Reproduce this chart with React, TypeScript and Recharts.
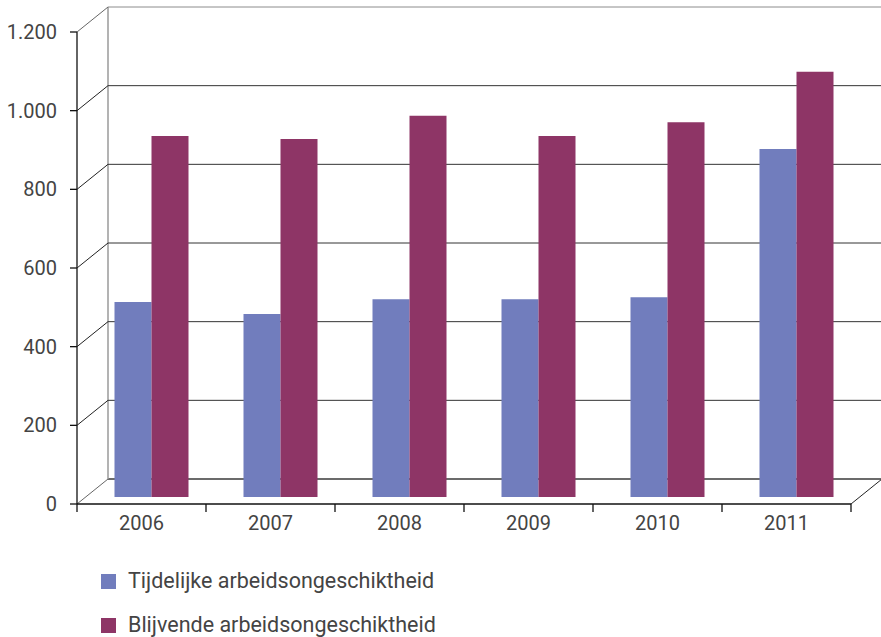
import React from 'react';
import { BarChart, Bar, XAxis, YAxis, CartesianGrid, Legend } from 'recharts';

const years = ['2006', '2007', '2008', '2009', '2010', '2011'];
const tijdelijk = [496, 465, 503, 503, 508, 885];
const blijvend = [918, 910, 969, 918, 953, 1081];
const yTicks = [0, 200, 400, 600, 800, 1000, 1200];
const seriesNames = ['Tijdelijke arbeidsongeschiktheid', 'Blijvende arbeidsongeschiktheid'];
const seriesColors = ['#717dbd', '#8e3566'];

const data = years.map((year, i) => ({ year, tijdelijk: tijdelijk[i], blijvend: blijvend[i] }));

// pseudo-3D frame: front plane sits below/left of the bars, back wall above/right
const W = 881;
const H = 637;
const PLOT_TOP = 25;
const PLOT_BOTTOM = 497;
const PLOT_H = PLOT_BOTTOM - PLOT_TOP;
const BAND = 129;
const FRONT_DX = -9.5;
const FRONT_DY = 7;
const BACK_DX = 21.5;
const BACK_DY = -18;
const TEXT = '#444';
const FONT = 'Roboto, "DejaVu Sans", sans-serif';

function formatTick(v: number): string {
  return String(v).replace(/\B(?=(\d{3})+(?!\d))/g, '.');
}

const GridLine = (props: any) => {
  const { x1, x2, y1 } = props;
  const yf = y1 + FRONT_DY;
  const yb = y1 + BACK_DY;
  const xf1 = x1 + FRONT_DX;
  const xb1 = x1 + BACK_DX;
  const isBottom = Math.abs(y1 - PLOT_BOTTOM) < 1;
  const isTop = Math.abs(y1 - PLOT_TOP) < 1;
  const edge = isBottom || isTop;
  return (
    <g>
      <line
        x1={xb1}
        y1={yb}
        x2={W}
        y2={yb}
        stroke={isBottom ? '#6b6b6b' : isTop ? '#8c8c8c' : '#333'}
        strokeWidth={isBottom ? 2 : 1}
      />
      <line x1={xf1} y1={yf} x2={xb1} y2={yb} stroke={edge ? '#666' : '#222'} strokeWidth={1} />
      {isBottom && (
        <g>
          <line x1={xb1} y1={yb} x2={xb1} y2={yb - PLOT_H} stroke="#9a9a9a" strokeWidth={1.5} />
          <line x1={xf1} y1={yf} x2={xf1} y2={yf - PLOT_H} stroke="#111" strokeWidth={1.3} />
          <line x1={xf1} y1={yf} x2={x2 + FRONT_DX} y2={yf} stroke="#111" strokeWidth={1.3} />
          <line x1={x2 + FRONT_DX} y1={yf} x2={x2 + BACK_DX} y2={yb} stroke="#222" strokeWidth={1} />
        </g>
      )}
    </g>
  );
};

const YTick = (props: any) => {
  const { y, payload } = props;
  const yf = y + FRONT_DY;
  const xf = 77;
  return (
    <g>
      <line x1={xf - 7} y1={yf} x2={xf} y2={yf} stroke="#111" strokeWidth={1.3} />
      <text x={57} y={yf + 7} textAnchor="end" fill={TEXT} fontSize={20} fontFamily={FONT}>
        {formatTick(payload.value)}
      </text>
    </g>
  );
};

const XTick = (props: any) => {
  const { x, payload, index } = props;
  const cx = x + FRONT_DX;
  const yf = PLOT_BOTTOM + FRONT_DY;
  const left = cx - BAND / 2;
  const right = cx + BAND / 2;
  return (
    <g>
      <line x1={left} y1={yf} x2={left} y2={yf + 8} stroke="#111" strokeWidth={1.3} />
      {index === years.length - 1 && (
        <line x1={right} y1={yf} x2={right} y2={yf + 8} stroke="#111" strokeWidth={1.3} />
      )}
      <text x={cx} y={yf + 26} textAnchor="middle" fill={TEXT} fontSize={20} fontFamily={FONT}>
        {payload.value}
      </text>
    </g>
  );
};

const LegendContent = () => (
  <div style={{ fontFamily: FONT, fontSize: 21.5, color: TEXT }}>
    {seriesNames.map((name, i) => (
      <div
        key={name}
        style={{ display: 'flex', alignItems: 'center', height: 22, marginBottom: 22, lineHeight: '22px' }}
      >
        <span style={{ width: 15, height: 15, background: seriesColors[i], marginRight: 12, display: 'inline-block' }} />
        <span style={{ whiteSpace: 'nowrap' }}>{name}</span>
      </div>
    ))}
  </div>
);

export default function App() {
  return (
    <div style={{ position: 'absolute', left: 0, top: 0, width: W, height: H, background: '#fff' }}>
      <BarChart
        width={W}
        height={H}
        data={data}
        margin={{ top: PLOT_TOP, right: 20.5, bottom: 110, left: 0 }}
        barGap={0}
        barSize={37}
      >
        <CartesianGrid vertical={false} horizontal={(p: any) => <GridLine key={p.key} {...p} />} />
        <XAxis dataKey="year" height={30} axisLine={false} tickLine={false} tick={XTick} interval={0} />
        <YAxis
          width={86.5}
          domain={[0, 1200]}
          ticks={yTicks}
          axisLine={false}
          tickLine={false}
          tick={YTick}
          interval={0}
        />
        <Legend
          layout="vertical"
          align="center"
          verticalAlign="middle"
          content={LegendContent}
          wrapperStyle={{ left: 101, top: 570, width: 420, height: 'auto' }}
        />
        <Bar dataKey="tijdelijk" name={seriesNames[0]} fill={seriesColors[0]} isAnimationActive={false} />
        <Bar dataKey="blijvend" name={seriesNames[1]} fill={seriesColors[1]} isAnimationActive={false} />
      </BarChart>
    </div>
  );
}
